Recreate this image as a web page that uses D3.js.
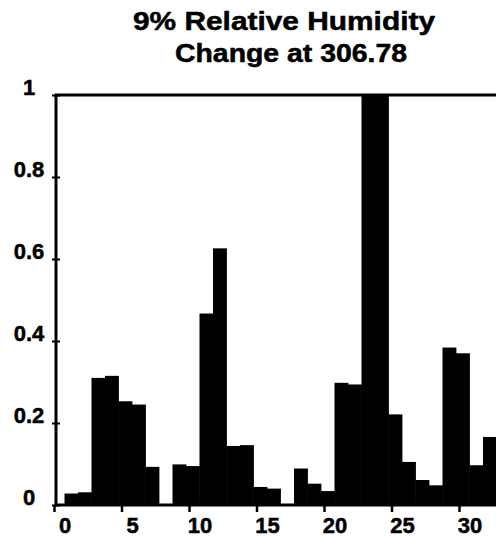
<!DOCTYPE html>
<html>
<head>
<meta charset="utf-8">
<script src="https://cdn.jsdelivr.net/npm/d3@7"></script>
<style>
  body { margin: 0; background: #ffffff; }
  svg { display: block; }
  text { font-family: "Liberation Sans", Arial, sans-serif; font-weight: bold; fill: #000000; }
</style>
</head>
<body>
<div id="chart"></div>
<script>
// bins along the x axis (left edge of each bar)
const bins = [0, 1, 2, 3, 4, 5, 6, 7, 8, 9, 10, 11, 12, 13, 14, 15,
  16, 17, 18, 19, 20, 21, 22, 23, 24, 25, 26, 27, 28, 29, 30, 31];
// normalised change per bin
const changes = [0.028, 0.031, 0.31, 0.315, 0.253, 0.245, 0.093, 0.0,
  0.099, 0.095, 0.467, 0.626, 0.144, 0.146, 0.044, 0.04,
  0.0, 0.089, 0.052, 0.034, 0.298, 0.294, 1.0, 1.0,
  0.221, 0.105, 0.061, 0.048, 0.384, 0.37, 0.097, 0.166];
const xTicks = [0, 5, 10, 15, 20, 25, 30];
const yTicks = [0, 0.2, 0.4, 0.6, 0.8, 1];
const yTickLabels = ["0", "0.2", "0.4", "0.6", "0.8", "1"];
const titleLines = ["9% Relative Humidity", "Change at 306.78"];

const width = 496;
const height = 538;
const axisX = 56;
const tickShift = 10.5; // ticks sit a little left of their labels in the original
const labelFont = "22px";

const svg = d3.select("#chart")
  .append("svg")
  .attr("width", width)
  .attr("height", height);

const x = d3.scaleLinear().domain([0, 32]).range([64.5, 64.5 + 32 * 13.5]);
const y = d3.scaleLinear().domain([0, 1]).range([505, 95]);

// bars
svg.append("g")
  .selectAll("rect")
  .data(bins.map((b, i) => ({ bin: b, value: changes[i] })))
  .enter()
  .append("rect")
  .attr("x", (d) => x(d.bin))
  .attr("width", (d) => x(d.bin + 1) - x(d.bin) + 0.4)
  .attr("y", (d) => y(d.value))
  .attr("height", (d) => y(0) - y(d.value))
  .style("fill", "#000000");

// frame: left axis, top line, baseline (right side is cut off)
const frame = svg.append("g")
  .style("stroke", "#000000")
  .style("stroke-width", 3)
  .style("fill", "none");
frame.append("line").attr("x1", axisX).attr("x2", axisX).attr("y1", y(1)).attr("y2", y(0));
frame.append("line").attr("x1", axisX - 1.5).attr("x2", width).attr("y1", y(1)).attr("y2", y(1));
frame.append("line").attr("x1", axisX - 1.5).attr("x2", width).attr("y1", y(0)).attr("y2", y(0));

// y axis
const yAxis = svg.append("g")
  .attr("transform", `translate(${axisX}, 0)`)
  .call(d3.axisLeft(y).tickValues(yTicks).tickFormat((d, i) => yTickLabels[i]).tickSize(4));
yAxis.select(".domain").remove();
yAxis.selectAll(".tick line")
  .attr("x1", -4)
  .attr("x2", 4)
  .style("stroke", "#000000")
  .style("stroke-width", 2);
yAxis.selectAll(".tick text")
  .attr("x", 29 - axisX)
  .attr("dy", null)
  .attr("y", -1)
  .attr("text-anchor", "middle")
  .style("font-size", labelFont)
  .style("font-family", "\"Liberation Sans\", Arial, sans-serif")
  .style("font-weight", "bold")
  .style("stroke", "#000000")
  .style("stroke-width", 0.5);

// x axis
const xAxis = svg.append("g")
  .attr("transform", `translate(${-tickShift}, ${y(0)})`)
  .call(d3.axisBottom(x).tickValues(xTicks).tickFormat(d3.format("d")).tickSize(7));
xAxis.select(".domain").remove();
xAxis.selectAll(".tick line")
  .style("stroke", "#000000")
  .style("stroke-width", 2.5);
xAxis.selectAll(".tick text")
  .attr("x", tickShift)
  .attr("dy", null)
  .attr("y", 28)
  .style("font-size", labelFont)
  .style("font-family", "\"Liberation Sans\", Arial, sans-serif")
  .style("font-weight", "bold")
  .style("stroke", "#000000")
  .style("stroke-width", 0.5);

// title
const titleWidths = [302, 232];
svg.append("g")
  .selectAll("text")
  .data(titleLines)
  .enter()
  .append("text")
  .attr("x", (d, i) => (i === 0 ? 284 : 291))
  .attr("y", (d, i) => 30 + i * 31.5)
  .attr("text-anchor", "middle")
  .attr("textLength", (d, i) => titleWidths[i])
  .attr("lengthAdjust", "spacingAndGlyphs")
  .style("font-size", "25px")
  .style("stroke", "#000000")
  .style("stroke-width", 0.5)
  .text((d) => d);
</script>
</body>
</html>
